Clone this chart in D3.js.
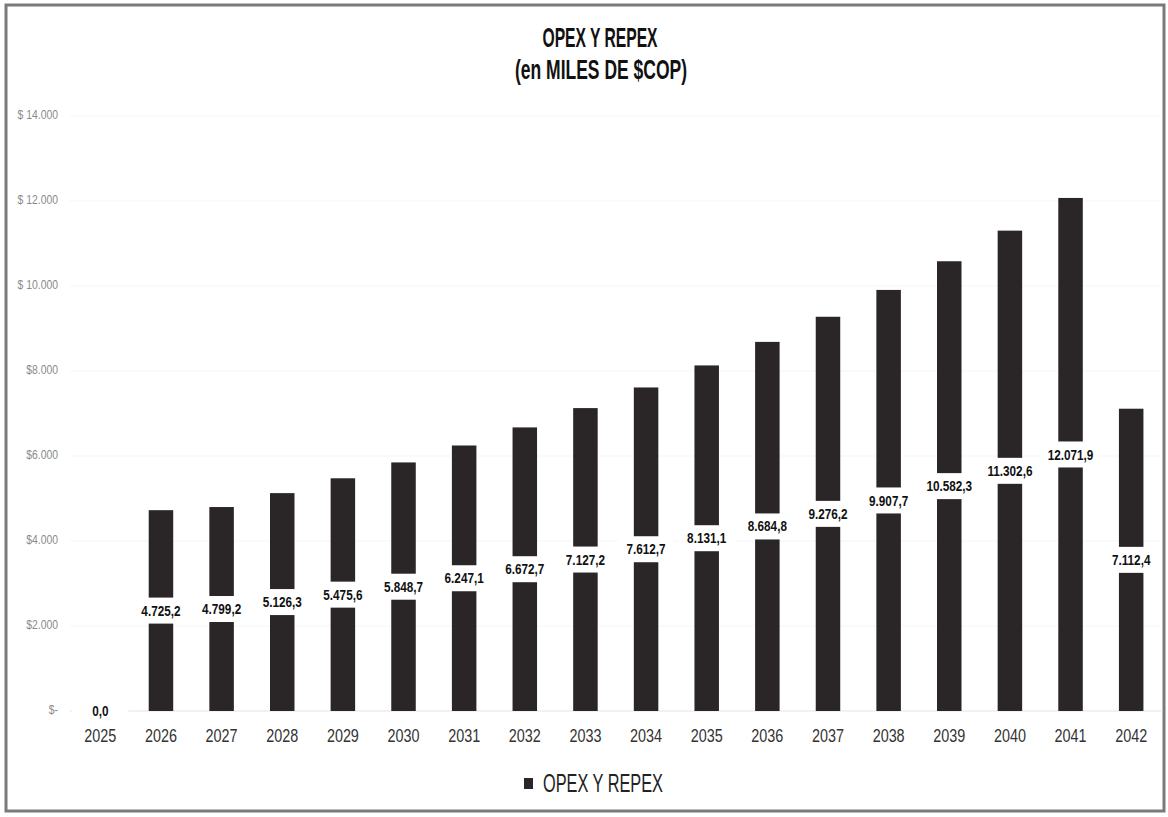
<!DOCTYPE html>
<html>
<head>
<meta charset="utf-8">
<script src="https://cdn.jsdelivr.net/npm/d3@7"></script>
<style>
  html, body { margin: 0; padding: 0; background: #fff; }
  svg { display: block; }
</style>
</head>
<body>
<svg id="chart" width="1168" height="817"></svg>
<script>
// ---- data ----
const years = ["2025","2026","2027","2028","2029","2030","2031","2032","2033","2034","2035","2036","2037","2038","2039","2040","2041","2042"];
const opexRepex = [0.0, 4725.2, 4799.2, 5126.3, 5475.6, 5848.7, 6247.1, 6672.7, 7127.2, 7612.7, 8131.1, 8684.8, 9276.2, 9907.7, 10582.3, 11302.6, 12071.9, 7112.4];
const yTickValues = [0, 2000, 4000, 6000, 8000, 10000, 12000, 14000];
const yTickLabels = ["$-", "$2.000", "$4.000", "$6.000", "$8.000", "$ 10.000", "$ 12.000", "$ 14.000"];
const titleLines = ["OPEX Y REPEX", "(en MILES DE $COP)"];
const seriesName = "OPEX Y REPEX";

const locale = d3.formatLocale({decimal: ",", thousands: ".", grouping: [3], currency: ["$", ""]});
const fmt = locale.format(",.1f");
const font = '"Liberation Sans Narrow", "Arial Narrow", "Liberation Sans", Arial, sans-serif';

const svg = d3.select("#chart");

// frame
svg.append("rect").attr("x", 6).attr("y", 5).attr("width", 1158).attr("height", 806)
  .attr("fill", "#fff").attr("stroke", "#7a7a7a").attr("stroke-width", 3);

const x = d3.scaleBand().domain(years).range([70, 1161.5]).paddingInner(0.596).paddingOuter(0.298);
const y = d3.scaleLinear().domain([0, 14000]).range([711, 116]);

// faint gridlines
svg.append("g").selectAll("line").data(yTickValues).join("line")
  .attr("x1", 70).attr("x2", 1161).attr("y1", d => y(d)).attr("y2", d => y(d))
  .attr("stroke", d => d === 0 ? "#e4e4e4" : "#f5f5f5").attr("stroke-width", 1);

// y axis labels
const yAxis = d3.axisLeft(y).tickValues(yTickValues).tickSize(0).tickPadding(0)
  .tickFormat((d, i) => yTickLabels[i]);
const gy = svg.append("g").attr("transform", "translate(58,-2)").call(yAxis);
gy.select(".domain").remove();
gy.selectAll("text").attr("font-size", 13).attr("fill", "#8a8a8a")
  .attr("transform", "scale(0.8,1)")
  .style("font-family", font);

// x axis labels
const xAxis = d3.axisBottom(x).tickSize(0).tickPadding(0);
const gx = svg.append("g").attr("transform", "translate(0,729)").call(xAxis);
gx.select(".domain").remove();
gx.selectAll("text").attr("font-size", 18).attr("fill", "#333").attr("dy", "0.71em")
  .attr("transform", "scale(0.8,1)")
  .style("font-family", font);

// bars
svg.append("g").selectAll("rect").data(opexRepex).join("rect")
  .attr("x", (d, i) => x(years[i])).attr("width", x.bandwidth())
  .attr("y", d => y(d)).attr("height", d => y(0) - y(d))
  .attr("fill", "#2a2527");

// value labels (centered in bar, white box)
const lbl = svg.append("g").selectAll("g").data(opexRepex).join("g")
  .attr("transform", (d, i) => `translate(${x(years[i]) + x.bandwidth() / 2},${(y(d) + y(0)) / 2})`);
lbl.append("rect").attr("x", -28).attr("y", -13).attr("width", 56).attr("height", 26).attr("fill", "#fff");
lbl.append("text").attr("text-anchor", "middle").attr("dy", "0.36em")
  .attr("font-size", 14).attr("font-weight", "bold").attr("fill", "#111")
  .attr("transform", "scale(0.84,1)")
  .style("font-family", font)
  .text(d => fmt(d));

// title
svg.append("text").attr("x", 600).attr("y", 47).attr("text-anchor", "middle")
  .attr("font-size", 28).attr("font-weight", "bold").attr("fill", "#111")
  .attr("textLength", 115).attr("lengthAdjust", "spacingAndGlyphs")
  .style("font-family", font).text(titleLines[0]);
svg.append("text").attr("x", 601).attr("y", 79).attr("text-anchor", "middle")
  .attr("font-size", 28).attr("font-weight", "bold").attr("fill", "#111")
  .attr("textLength", 172).attr("lengthAdjust", "spacingAndGlyphs")
  .style("font-family", font).text(titleLines[1]);

// legend
svg.append("rect").attr("x", 524).attr("y", 778).attr("width", 9).attr("height", 11).attr("fill", "#2a2527");
svg.append("text").attr("x", 543).attr("y", 792)
  .attr("font-size", 26).attr("fill", "#222")
  .attr("textLength", 120).attr("lengthAdjust", "spacingAndGlyphs")
  .style("font-family", font).text(seriesName);
</script>
</body>
</html>
